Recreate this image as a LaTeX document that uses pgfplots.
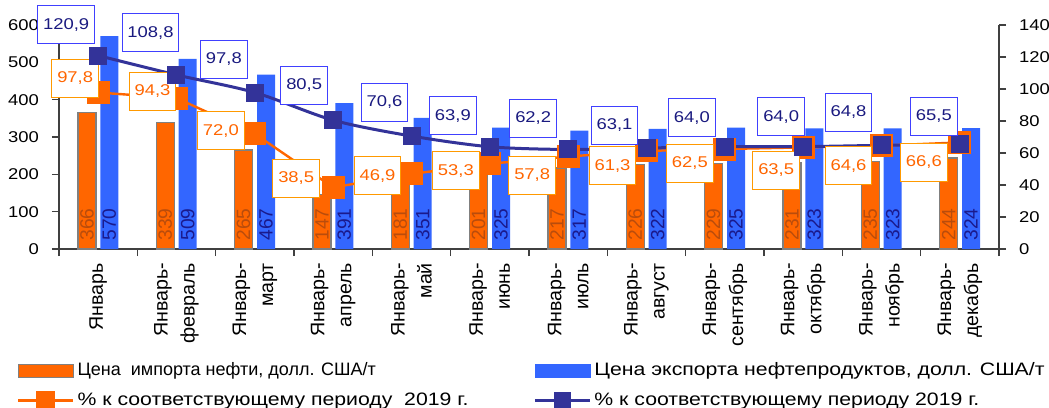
\documentclass[border=0pt]{standalone}
\usepackage{fontspec}
\setmainfont{Liberation Sans}
\newfontfamily\wide[FakeStretch=1.18]{Liberation Sans}
\usepackage{pgfplots}
\usepackage{pgfplotstable}
\pgfplotsset{compat=1.18}

\definecolor{impc}{HTML}{FF6600}
\definecolor{expc}{HTML}{3366FF}
\definecolor{navy}{HTML}{333399}
\definecolor{impbord}{HTML}{FF9900}
\definecolor{expbord}{HTML}{4040FF}
\definecolor{exptext}{HTML}{1A1A80}
\definecolor{impval}{HTML}{B94C0C}
\definecolor{expval}{HTML}{1A1A8C}
\definecolor{axgray}{HTML}{404040}

% x: category, imp/exp: prices, pimp/pexp: % to 2019, o*/b*: label offsets (pt)
\pgfplotstableread{
x imp exp pimp pexp odx ody bdx bdy
0 366 570 97.8 120.9 -11.5 7 -16 15.5
1 339 509 94.3 108.8 -12 3.5 -13 21
2 265 467 72.0 97.8 -17 1.5 -15.5 16.5
3 147 391 38.5 80.5 -18.5 4.5 -14.5 17.5
4 181 351 46.9 70.6 -17 -1 -13.5 17
5 201 325 53.3 63.9 -17 -3.5 -18.5 15.5
6 217 317 57.8 62.2 -18 -9.5 -17.5 15.5
7 226 322 61.3 63.1 -17 -7.5 -16 11.5
8 229 325 62.5 64.0 -17.5 -7 -16.5 14.5
9 231 323 63.5 64.0 -13.5 -11.5 -11 15
10 235 323 64.6 64.8 -16.5 -10 -16.5 16.5
11 244 324 66.6 65.5 -18 -10 -13 14
}\data

\pgfplotsset{
  base/.style={
    scale only axis, width=470pt, height=112pt,
    xmin=-0.5, xmax=11.5, ymin=0,
    clip=false,
    tick align=outside,
    major tick length=3.5pt,
    axis line style={draw=axgray, line width=0.6pt},
    tick style={draw=axgray, line width=0.6pt},
    /pgf/number format/assume math mode=true,
    yticklabel style={font=\wide\fontsize{7.8}{9}\selectfont},
  },
  barleg/.style={legend image code/.code={
    \draw[##1] (0pt,-3.25pt) rectangle (27.5pt,3.25pt);}},
  lineleg/.style={legend image code/.code={
    \draw[##1, mark repeat=2, mark phase=2, mark size=#1]
      plot coordinates {(0pt,0pt) (13.75pt,0pt) (27.5pt,0pt)};}},
  vallabel/.style={draw=none, mark=none, forget plot,
    nodes near coords, point meta=explicit,
    every node near coord/.style={rotate=90, anchor=west,
      inner xsep=4pt, inner ysep=0pt, text=#1,
      font=\fontsize{9.6}{10}\selectfont}},
  boxlabel/.style n args={2}{
    point meta=explicit,
    nodes near coords={\pgfmathprintnumber[fixed,fixed zerofill,precision=1,use comma]{\pgfplotspointmeta}},
    every node near coord/.style={shift={(\ldx pt,\ldy pt)}, anchor=center,
      draw=#1, fill=white, text=#2, line width=0.5pt,
      inner xsep=2.7pt, inner ysep=0pt, minimum height=19pt,
      font=\wide\fontsize{7.8}{9}\selectfont}},
}

\begin{document}
\begin{tikzpicture}
\begin{axis}[base, name=ax,
  ymax=600, ytick={0,100,...,600},
  axis y line*=left, axis x line*=bottom,
  xtick={-0.5,0.5,...,11.5}, xticklabels={},
  yticklabel style={xshift=-3pt},
]
\addplot[ybar, bar width=9pt, bar shift=-5.6pt, fill=impc, draw=gray, line width=0.6pt]
  table[x=x, y=imp] {\data};
\addplot[ybar, bar width=9pt, bar shift=5.6pt, fill=expc, draw=none]
  table[x=x, y=exp] {\data};
\addplot[vallabel=impval, xshift=-5.6pt] table[x=x, y expr=0, meta=imp] {\data};
\addplot[vallabel=expval, xshift=5.6pt] table[x=x, y expr=0, meta=exp] {\data};
\end{axis}

\begin{axis}[base,
  ymax=140, ytick={0,20,...,140},
  axis y line*=right, axis x line*=bottom,
  x axis line style={draw=none},
  xtick={0,...,11}, xtick style={draw=none},
  xticklabels={Январь, {Январь-\\февраль}, {Январь-\\март}, {Январь-\\апрель},
    {Январь-\\май}, {Январь-\\июнь}, {Январь-\\июль}, {Январь-\\август},
    {Январь-\\сентябрь}, {Январь-\\октябрь}, {Январь-\\ноябрь}, {Январь-\\декабрь}},
  xticklabel style={rotate=90, anchor=east, align=right,
    font=\fontsize{9.8}{13.5}\selectfont},
  yticklabel style={xshift=3pt},
  legend columns=2,
  legend cell align=left,
  legend style={draw=none, fill=none, at={(-0.0513,-0.47)}, anchor=north west,
    font=\wide\fontsize{9}{10.5}\selectfont, row sep=3pt, column sep=0pt,
    nodes={inner xsep=1.5pt},
    /tikz/column 2/.style={column sep=31pt}},
]
\addlegendimage{barleg, fill=impc, draw=gray, line width=0.6pt}
\addlegendentry{\rmfamily\fontsize{9}{10.5}\selectfont Цена\ \ импорта нефти, долл. США/т}
\addlegendimage{barleg, fill=expc, draw=expc}
\addlegendentry{Цена экспорта нефтепродуктов, долл. США/т}

\addplot[impc, line width=1.2pt, mark=square*, mark size=5.5pt,
  mark options={fill=impc, draw=impc, line width=0pt},
  lineleg=4.5pt,
  visualization depends on={\thisrow{odx} \as \ldx},
  visualization depends on={\thisrow{ody} \as \ldy},
  boxlabel={impbord}{impc}]
  table[x=x, y=pimp, meta=pimp] {\data};
\addlegendentry{\% к соответствующему периоду\ \ 2019 г.}

\addplot[navy, line width=1.5pt, smooth, mark=square*, mark size=4.25pt,
  mark options={fill=navy, draw=navy, line width=0pt},
  lineleg=4.2pt,
  visualization depends on={\thisrow{bdx} \as \ldx},
  visualization depends on={\thisrow{bdy} \as \ldy},
  boxlabel={expbord}{exptext}]
  table[x=x, y=pexp, meta=pexp] {\data};
\addlegendentry{\% к соответствующему периоду 2019 г.}
\end{axis}

\pgfresetboundingbox
\path[use as bounding box] ([shift={(-29.5pt,-79pt)}]ax.south west)
  rectangle ([shift={(25pt,12.5pt)}]ax.north east);
\end{tikzpicture}
\end{document}
